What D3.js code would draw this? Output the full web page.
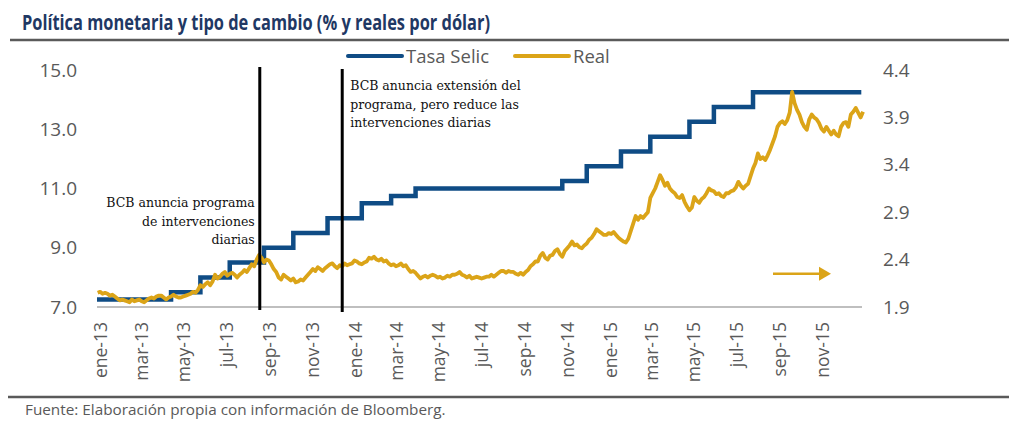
<!DOCTYPE html>
<html><head><meta charset="utf-8">
<script src="https://cdn.jsdelivr.net/npm/d3@7/dist/d3.min.js"></script>
<style>
body{margin:0;background:#fff;}
svg{display:block;}
</style></head>
<body>
<svg id="c" width="1024" height="432"></svg>
<script>
// ---------- DATA ----------
const title = "Política monetaria y tipo de cambio (% y reales por dólar)";
const source = "Fuente: Elaboración propia con información de Bloomberg.";
const seriesNames = ["Tasa Selic", "Real"];

// Selic rate changes (date of decision, new rate %)
const selicDates = ["2013-01-01","2013-04-17","2013-05-29","2013-07-10","2013-08-28","2013-10-09","2013-11-27",
  "2014-01-15","2014-02-26","2014-04-02","2014-10-29","2014-12-03","2015-01-21","2015-03-04","2015-04-29",
  "2015-06-03","2015-07-29","2015-12-31"];
const selicValues = [7.25,7.50,8.00,8.50,9.00,9.50,10.00,10.50,10.75,11.00,11.25,11.75,12.25,12.75,13.25,13.75,14.25,14.25];

// BRL per USD, twice-weekly observations (every 3.5 days) starting on realStart
const realStart = "2013-01-02";
const realValues = [
  // 2013
  2.05,2.06, 2.04,2.05, 2.04,2.02, 2.03,2.01, 1.99,1.97,
  1.98,1.97, 1.96,1.95, 1.98,1.96, 1.97,1.98,
  1.96,1.95, 1.97,1.99, 2.00,1.99, 2.01,2.02,
  2.02,2.00, 1.98,2.00, 2.01,2.03, 2.01,2.00,
  2.00,2.01, 2.02,2.03, 2.04,2.06, 2.05,2.08, 2.13,2.11,
  2.14,2.16, 2.13,2.17, 2.24,2.20, 2.22,2.25,
  2.27,2.23, 2.25,2.26, 2.24,2.21, 2.24,2.26, 2.29,2.27,
  2.31,2.35, 2.33,2.40, 2.45,2.42, 2.37,2.40,
  2.39,2.35, 2.30,2.27, 2.21,2.19, 2.24,2.22,
  2.20,2.18, 2.20,2.16, 2.17,2.19, 2.18,2.21, 2.24,2.27,
  2.30,2.28, 2.32,2.30, 2.28,2.31, 2.33,2.35,
  2.36,2.33, 2.31,2.34, 2.33,2.36, 2.34,2.35,
  // 2014
  2.36,2.39, 2.38,2.36, 2.35,2.37, 2.38,2.42, 2.41,2.43,
  2.40,2.39, 2.41,2.38, 2.39,2.36, 2.34,2.35,
  2.33,2.34, 2.36,2.33, 2.34,2.30, 2.27,2.28,
  2.26,2.23, 2.20,2.22, 2.23,2.21, 2.23,2.24, 2.23,2.21,
  2.22,2.20, 2.21,2.23, 2.22,2.24, 2.24,2.25,
  2.27,2.24, 2.23,2.21, 2.23,2.20, 2.21,2.22,
  2.21,2.20, 2.21,2.22, 2.22,2.24, 2.22,2.24, 2.26,2.28,
  2.28,2.26, 2.28,2.27, 2.27,2.25, 2.24,2.26,
  2.24,2.27, 2.29,2.33, 2.35,2.38, 2.38,2.44,
  2.47,2.42, 2.40,2.44, 2.45,2.49, 2.51,2.46, 2.43,2.49,
  2.52,2.55, 2.59,2.55, 2.56,2.53, 2.52,2.55,
  2.57,2.61, 2.63,2.67, 2.72,2.70, 2.68,2.66, 2.66,2.68,
  // 2015
  2.67,2.69, 2.66,2.63, 2.61,2.59, 2.58,2.62,
  2.70,2.78, 2.86,2.82, 2.86,2.84, 2.87,2.90,
  3.05,3.10, 3.15,3.22, 3.29,3.24, 3.18,3.21,
  3.15,3.12, 3.10,3.06, 3.05,3.08, 3.01,2.96, 2.92,2.95,
  3.06,3.02, 3.00,3.04, 3.06,3.10, 3.15,3.13,
  3.12,3.09, 3.10,3.07, 3.06,3.10, 3.10,3.12,
  3.13,3.16, 3.22,3.18, 3.15,3.18, 3.20,3.28, 3.36,3.42,
  3.52,3.46, 3.48,3.45, 3.50,3.56, 3.63,3.70,
  3.80,3.84, 3.86,3.83, 3.87,3.95, 4.17,4.05, 3.98,3.93,
  3.85,3.80, 3.77,3.88, 3.93,3.90, 3.88,3.84,
  3.78,3.75, 3.80,3.76, 3.72,3.76, 3.72,3.70,
  3.80,3.84, 3.85,3.80, 3.93,3.96, 4.00,3.95, 3.90,3.96
];

const leftTicks = [7.0, 9.0, 11.0, 13.0, 15.0];
const rightTicks = [1.9, 2.4, 2.9, 3.4, 3.9, 4.4];
const monthNames = ["ene","feb","mar","abr","may","jun","jul","ago","sep","oct","nov","dic"];
const xTickDates = ["2013-01-01","2013-03-01","2013-05-01","2013-07-01","2013-09-01","2013-11-01",
  "2014-01-01","2014-03-01","2014-05-01","2014-07-01","2014-09-01","2014-11-01",
  "2015-01-01","2015-03-01","2015-05-01","2015-07-01","2015-09-01","2015-11-01"];

const events = [
  {date:"2013-08-22", lines:["BCB anuncia programa","de intervenciones","diarias"], side:"left"},
  {date:"2013-12-18", lines:["BCB anuncia extensión del","programa, pero reduce las","intervenciones diarias"], side:"right"}
];

// ---------- CHART ----------
const parse = d3.utcParse("%Y-%m-%d");
const navy = "#0f4c85", gold = "#dba418", txt = "#595959";
const svg = d3.select("#c");
const M = {left:97, right:862, top:70, bottom:307};

const x = d3.scaleUtc().domain([parse("2013-01-01"), parse("2016-01-01")]).range([M.left, M.right]);
const yL = d3.scaleLinear().domain([7, 15]).range([M.bottom, M.top]);
const yR = d3.scaleLinear().domain([1.9, 4.4]).range([M.bottom, M.top]);

// title
svg.append("text").attr("x", 22).attr("y", 30).text(title)
  .attr("font-family","Open Sans").attr("font-weight","bold").attr("font-size",21)
  .attr("textLength",468).attr("lengthAdjust","spacingAndGlyphs")
  .attr("fill","#1f3864");
svg.append("line").attr("x1",10).attr("x2",1009).attr("y1",40).attr("y2",40)
  .attr("stroke","#5a5a5a").attr("stroke-width",2.5);

// legend
const leg = svg.append("g").attr("font-family","Open Sans").attr("font-size",18.5).attr("fill",txt);
[[348,navy,seriesNames[0]],[515,gold,seriesNames[1]]].forEach(([lx,c,n])=>{
  leg.append("line").attr("x1",lx).attr("x2",lx+54).attr("y1",56).attr("y2",56)
    .attr("stroke",c).attr("stroke-width",4).attr("stroke-linecap","round");
  leg.append("text").attr("x",lx+58).attr("y",62.5).text(n);
});

// axes
const axL = d3.axisLeft(yL).tickValues(leftTicks).tickFormat(d3.format(".1f")).tickSize(0).tickPadding(20);
const gL = svg.append("g").attr("transform",`translate(${M.left},0)`).call(axL);
const axR = d3.axisRight(yR).tickValues(rightTicks).tickFormat(d3.format(".1f")).tickSize(0).tickPadding(21);
const gR = svg.append("g").attr("transform",`translate(${M.right},0)`).call(axR);
[gL,gR].forEach(g=>{
  g.select(".domain").remove();
  g.selectAll("text").attr("font-family","Open Sans").attr("font-size",19).attr("fill",txt);
});

// baseline
svg.append("line").attr("x1",M.left).attr("x2",M.right).attr("y1",M.bottom).attr("y2",M.bottom)
  .attr("stroke","#bfbfbf").attr("stroke-width",2);

// x axis labels
const fmt = d => monthNames[d.getUTCMonth()] + "-" + String(d.getUTCFullYear()).slice(2);
const axB = d3.axisBottom(x).tickValues(xTickDates.map(parse)).tickFormat(fmt).tickSize(0);
const gB = svg.append("g").attr("transform",`translate(0,${M.bottom})`).call(axB);
gB.select(".domain").remove();
gB.selectAll("text").attr("font-family","Open Sans").attr("font-size",17.5).attr("fill",txt)
  .attr("transform","rotate(-90)").attr("text-anchor","end").attr("dy","0.35em")
  .attr("x",-15).attr("y",3);

// Selic step line
const selic = selicDates.map((d,i)=>({d:parse(d), v:selicValues[i]}));
svg.append("path").datum(selic)
  .attr("d", d3.line().x(d=>x(d.d)).y(d=>yL(d.v)).curve(d3.curveStepAfter))
  .attr("fill","none").attr("stroke",navy).attr("stroke-width",4.5);

// Real line
const r0 = parse(realStart);
const real = realValues.map((v,i)=>({d:d3.utcHour.offset(r0, i*84), v}));
svg.append("path").datum(real)
  .attr("d", d3.line().x(d=>x(d.d)).y(d=>yR(d.v)))
  .attr("fill","none").attr("stroke",gold).attr("stroke-width",3.8).attr("stroke-linejoin","round");

// event lines + annotations
events.forEach((e,i)=>{
  const ex = x(parse(e.date));
  svg.append("line").attr("x1",ex).attr("x2",ex).attr("y1",67+i*2).attr("y2",310+i*2)
    .attr("stroke","#000").attr("stroke-width",3);
  const t = svg.append("text").attr("font-family","DejaVu Serif").attr("font-size",12.5).attr("fill","#111")
    .attr("text-anchor", e.side==="left" ? "end" : "start");
  const tx = e.side==="left" ? ex-5 : ex+8;
  const ty = e.side==="left" ? 207 : 90;
  e.lines.forEach((l,j)=> t.append("tspan").attr("x",tx).attr("y",ty+j*18.5).text(l));
});

// arrow pointing to right axis
const ay = yR(2.25);
svg.append("line").attr("x1",773).attr("x2",819).attr("y1",ay).attr("y2",ay)
  .attr("stroke",gold).attr("stroke-width",2.5);
svg.append("path").attr("d",`M819,${ay-7}L831,${ay}L819,${ay+7}Z`).attr("fill",gold);

// bottom rule + source
svg.append("line").attr("x1",8).attr("x2",1009).attr("y1",397).attr("y2",397)
  .attr("stroke","#5a5a5a").attr("stroke-width",2.5);
svg.append("text").attr("x",25).attr("y",415).text(source)
  .attr("font-family","Open Sans").attr("font-size",15.3).attr("fill",txt);
</script>
</body></html>
